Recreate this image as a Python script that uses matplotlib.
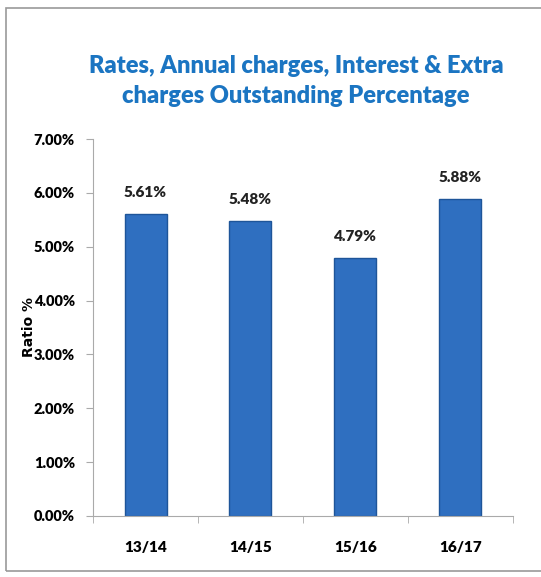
import matplotlib
matplotlib.use("Agg")
import matplotlib.pyplot as plt
from matplotlib.patches import Rectangle
from matplotlib import font_manager

# data
years = ["13/14", "14/15", "15/16", "16/17"]
ratio = [5.61, 5.48, 4.79, 5.88]
yticks = [0, 1, 2, 3, 4, 5, 6, 7]

names = set(f.name for f in font_manager.fontManager.ttflist)
narrow = [n for n in ["Liberation Sans Narrow", "Lato", "DejaVu Sans"] if n in names]

fig = plt.figure(figsize=(5.41, 5.77), dpi=100)
ax = fig.add_axes([0.172, 0.106, 0.776, 0.653])

xpos = list(range(len(years)))
ax.bar(xpos, ratio, width=0.4, color="#2F6FC0", edgecolor="#1E5599", linewidth=1)

for x, v in zip(xpos, ratio):
    ax.annotate("%.2f%%" % v, (x, v), xytext=(0, 11), textcoords="offset points",
                ha="center", va="bottom", fontsize=11, fontweight="heavy",
                family=narrow, color="#222222")

ax.set_xlim(-0.5, 3.5)
ax.set_ylim(0, 7)
ax.set_yticks(yticks)
ax.set_yticklabels(["%.2f%%" % t for t in yticks], fontsize=10.5, fontweight="heavy", family=narrow)
ax.set_xticks(xpos)
ax.set_xticklabels(years, fontsize=11, fontweight="heavy", family=narrow)
ax.set_xticks([-0.5, 0.5, 1.5, 2.5, 3.5], minor=True)
ax.tick_params(axis="x", which="major", length=0, pad=18)
ax.tick_params(axis="x", which="minor", length=5, color="#AAAAAA")
ax.tick_params(axis="y", length=5, color="#AAAAAA", pad=8)

for s in ["top", "right"]:
    ax.spines[s].set_visible(False)
for s in ["left", "bottom"]:
    ax.spines[s].set_color("#AAAAAA")

ax.set_ylabel("Ratio %", fontsize=10, fontweight="bold")
ax.yaxis.set_label_coords(-0.135, 0.5)

fig.text(0.547, 0.86, "Rates, Annual charges, Interest & Extra\ncharges Outstanding Percentage",
         ha="center", va="center", fontsize=17, fontweight="heavy", family=narrow,
         color="#1B75C2", linespacing=1.45)

# outer frame
fig.patches.append(Rectangle((0.011, 0.01), 1.0, 0.976, transform=fig.transFigure,
                             fill=False, edgecolor="#999999", linewidth=1.2))

plt.savefig("out.png", dpi=100)
